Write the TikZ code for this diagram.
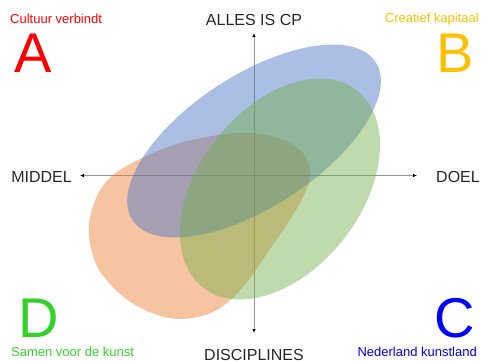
\documentclass[tikz,border=0pt]{standalone}
\usepackage{fontspec}
\setmainfont{Liberation Sans}
\usetikzlibrary{arrows.meta}
\definecolor{cBlue}{RGB}{68,114,196}
\definecolor{cGreen}{RGB}{112,173,71}
\definecolor{cOrange}{RGB}{237,125,49}
\definecolor{cGold}{RGB}{255,192,0}
\definecolor{cLGreen}{RGB}{51,210,40}
\definecolor{cAxis}{RGB}{150,150,150}
\tikzset{
  axislabel/.style={inner sep=0pt, font=\fontsize{16}{18}\selectfont, text=black!85},
  cornertext/.style={inner sep=0pt, font=\fontsize{13}{15}\selectfont},
  bigletter/.style={inner sep=0pt, font=\fontsize{56}{60}\selectfont},
  axisline/.style={draw=cAxis, line width=0.7pt, {Latex[black,length=4pt,width=3.5pt]}-{Latex[black,length=4pt,width=3.5pt]}},
  blob/.style={fill opacity=0.45, draw=none}
}
\begin{document}
\begin{tikzpicture}[x=1pt,y=-1pt]
\useasboundingbox (0,0) rectangle (481,360);
% axes
\coordinate (top) at (254,33);
\coordinate (bot) at (254,333);
\coordinate (left) at (80,175.5);
\coordinate (right) at (417,175.5);
\draw[axisline] (bot) -- (top);
\draw[axisline] (left) -- (right);
% shapes
\fill[blob, fill=cOrange] plot[smooth cycle, tension=0.6] coordinates {
 (237,133) (275,137) (302,152) (310,174) (300,203) (268,252) (242,288)
 (215,311) (180,319) (147,311) (119,293) (97,266) (89,234) (93,206)
 (106,182) (130,164) (180,143)};
\coordinate (bc) at (254,141);
\fill[blob, fill=cBlue, rotate around={33:(bc)}] (bc) ellipse (145pt and 66pt);
\coordinate (gc) at (280,189);
\fill[blob, fill=cGreen, rotate around={52:(gc)}] (gc) ellipse (125pt and 81pt);
% axis labels
\node[axislabel, anchor=base] (alles) at (254,25.5) {ALLES IS CP};
\node[axislabel, anchor=base] (disc) at (254,360.5) {DISCIPLINES};
\node[axislabel, anchor=base east] (middel) at (72,182) {MIDDEL};
\node[axislabel, anchor=base west] (doel) at (436,182) {DOEL};
% corners
\node[cornertext, text=red, anchor=base west] (ta) at (10,23) {Cultuur verbindt};
\node[bigletter, text=red, anchor=base west] (la) at (14,72) {A};
\node[cornertext, text=cGold, anchor=base east] (tb) at (479,22) {Creatief kapitaal};
\node[bigletter, text=cGold, anchor=base west] (lb) at (436,72) {B};
\node[bigletter, text=blue, anchor=base west] (lc) at (434,337) {C};
\node[cornertext, text=blue, anchor=base east] (tc) at (477,356.5) {Nederland kunstland};
\node[bigletter, text=cLGreen, anchor=base west] (ld) at (18,337) {D};
\node[cornertext, text=cLGreen, anchor=base west] (td) at (11,356.5) {Samen voor de kunst};
\end{tikzpicture}
\end{document}
